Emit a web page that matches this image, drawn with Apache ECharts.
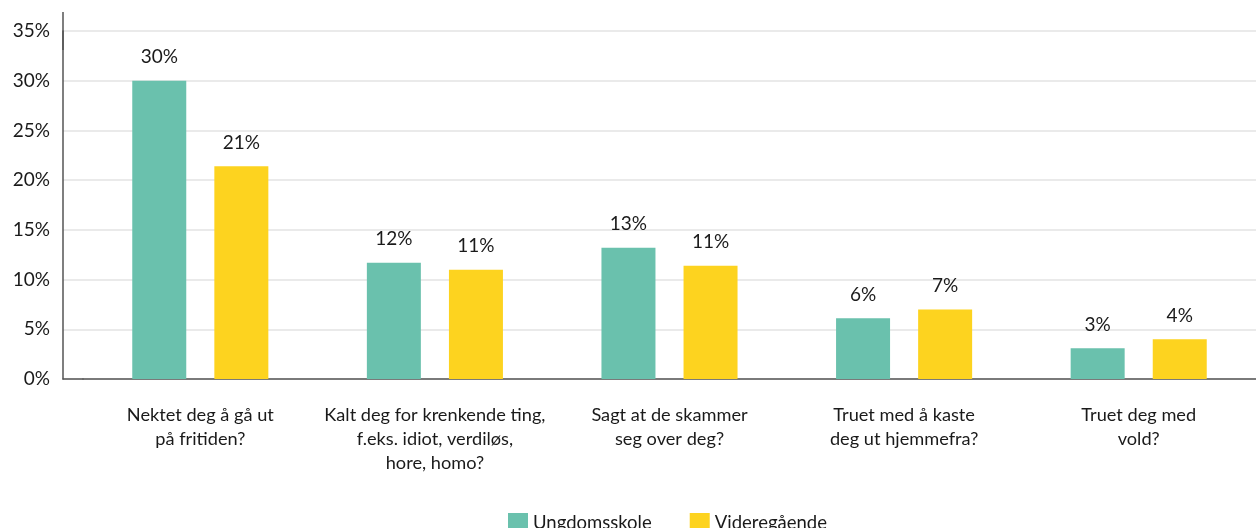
<!DOCTYPE html>
<html>
<head>
<meta charset="utf-8">
<script src="https://cdn.jsdelivr.net/npm/echarts@6/dist/echarts.min.js"></script>
<style>
  html, body { margin: 0; padding: 0; background: #fff; }
  #chart { width: 1256px; height: 528px; }
</style>
</head>
<body>
<div id="chart"></div>
<script>
// kategorier (x-akse)
var categories = [
  "Nektet deg å gå ut\npå fritiden?",
  "Kalt deg for krenkende ting,\nf.eks. idiot, verdiløs,\nhore, homo?",
  "Sagt at de skammer\nseg over deg?",
  "Truet med å kaste\ndeg ut hjemmefra?",
  "Truet deg med\nvold?"
];
var seriesNames = ["Ungdomsskole", "Videregående"];
var ungdomsskole = [30.0, 11.7, 13.2, 6.1, 3.1];
var videregaende = [21.4, 11.0, 11.4, 7.0, 4.0];
var yTicks = [0, 5, 10, 15, 20, 25, 30, 35];

var fontFam = "Lato, 'Open Sans', sans-serif";
var textCol = "#1a1a1a";

var chart = echarts.init(document.getElementById("chart"));

var labelOpt = {
  show: true,
  position: "top",
  distance: 14,
  color: textCol,
  fontFamily: fontFam,
  fontSize: 19,
  formatter: function (p) { return Math.round(p.value) + "%"; }
};

var option = {
  animation: false,
  textStyle: { fontFamily: fontFam },
  legend: {
    data: seriesNames,
    left: 503,
    top: 508,
    itemWidth: 20,
    itemHeight: 20,
    itemGap: 38,
    icon: "rect",
    textStyle: { color: textCol, fontSize: 18.5, fontFamily: fontFam }
  },
  grid: [
    // plot area for the bars
    { left: 83, top: 31, width: 1175, bottom: 149 },
    // small strip to the left that carries the visible y axis
    { left: 63, top: 31, width: 20, bottom: 149 }
  ],
  xAxis: [
    {
      gridIndex: 0,
      type: "category",
      data: categories,
      axisLine: { show: true, lineStyle: { color: "#555", width: 1.5 } },
      axisTick: { show: false },
      axisLabel: {
        color: textCol,
        fontSize: 18.2,
        fontFamily: fontFam,
        lineHeight: 24,
        margin: 24,
        interval: 0
      }
    },
    {
      gridIndex: 1,
      type: "value",
      min: 0,
      max: 1,
      axisLine: { show: true, onZero: false, lineStyle: { color: "#555", width: 1.5 } },
      axisTick: { show: false },
      axisLabel: { show: false },
      splitLine: { show: false }
    }
  ],
  yAxis: [
    {
      gridIndex: 0,
      type: "value",
      min: yTicks[0],
      max: yTicks[yTicks.length - 1],
      interval: 5,
      axisLine: { show: false },
      axisTick: { show: false },
      axisLabel: { show: false },
      splitLine: { show: true, lineStyle: { color: "#e3e3e3", width: 1.5 } }
    },
    {
      gridIndex: 1,
      type: "value",
      min: yTicks[0],
      max: yTicks[yTicks.length - 1],
      interval: 5,
      axisLine: {
        show: true,
        onZero: false,
        symbol: ["none", "rect"],
        symbolSize: [1.5, 38],
        lineStyle: { color: "#555", width: 1.5 }
      },
      axisTick: { show: false },
      axisLabel: {
        color: textCol,
        fontSize: 19,
        fontFamily: fontFam,
        margin: 13,
        formatter: "{value}%"
      },
      splitLine: { show: true, lineStyle: { color: "#e3e3e3", width: 1.5 } }
    }
  ],
  series: [
    {
      name: seriesNames[0],
      type: "bar",
      xAxisIndex: 0,
      yAxisIndex: 0,
      data: ungdomsskole,
      barWidth: 54,
      barGap: "52%",
      itemStyle: { color: "#6AC1AD" },
      label: labelOpt
    },
    {
      name: seriesNames[1],
      type: "bar",
      xAxisIndex: 0,
      yAxisIndex: 0,
      data: videregaende,
      barWidth: 54,
      barGap: "52%",
      itemStyle: { color: "#FDD31F" },
      label: labelOpt
    }
  ]
};

chart.setOption(option);
</script>
</body>
</html>
